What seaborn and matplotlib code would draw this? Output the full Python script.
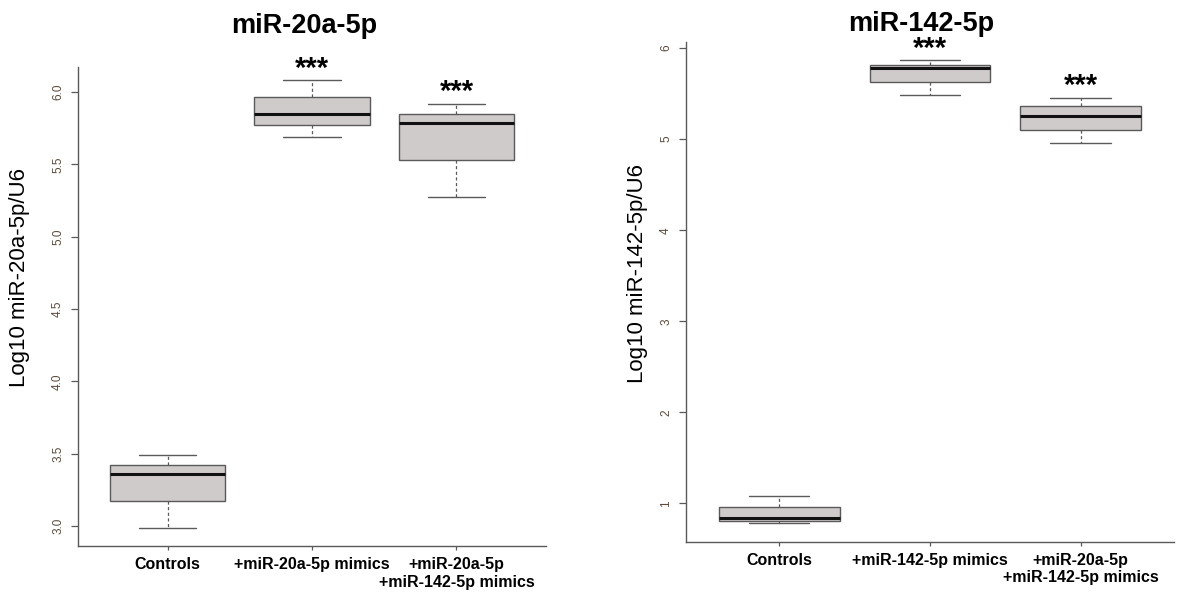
import numpy as np
import pandas as pd
import seaborn as sns
import matplotlib.pyplot as plt

# Five-number summaries: min, Q1, median, Q3, max
groups_20a = ['Controls', '+miR-20a-5p mimics', '+miR-20a-5p\n+miR-142-5p mimics']
controls_20a = [2.984, 3.173, 3.362, 3.424, 3.493]
mimics_20a = [5.689, 5.774, 5.850, 5.965, 6.080]
combo_20a = [5.271, 5.527, 5.783, 5.850, 5.919]

groups_142 = ['Controls', '+miR-142-5p mimics', '+miR-20a-5p\n+miR-142-5p mimics']
controls_142 = [0.782, 0.810, 0.836, 0.960, 1.083]
mimics_142 = [5.490, 5.626, 5.782, 5.819, 5.869]
combo_142 = [4.960, 5.105, 5.258, 5.360, 5.454]

significance = ['', '***', '***']
yticks_20a = [3.0, 3.5, 4.0, 4.5, 5.0, 5.5, 6.0]
yticks_142 = [1, 2, 3, 4, 5, 6]

BOX_FILL = '#cfcbcb'
EDGE = '#5a5a5a'
TICK_TEXT = '#5a4a3c'


def make_frame(groups, series):
    """Long-form table: one row per value, tagged by its group"""
    rows = []
    for name, vals in zip(groups, series):
        for v in vals:
            rows.append({'group': name, 'value': v})
    return pd.DataFrame(rows)


def draw_panel(ax, groups, series, title, ylabel, ylim, yticks, fmt, label_x, label_y, title_pad):
    """Draw one R-style boxplot panel"""
    df = make_frame(groups, series)
    sns.boxplot(
        data=df, x='group', y='value', order=groups, ax=ax,
        color=BOX_FILL, saturation=1, width=0.8, whis=(0, 100),
        showfliers=False, linecolor=EDGE, linewidth=1.0,
        medianprops=dict(color='#111111', linewidth=2.2),
        whiskerprops=dict(linestyle=(0, (2.5, 2)), linewidth=0.9),
        capprops=dict(linewidth=1.0),
    )

    # significance stars just above the upper whisker
    for i, (sig, vals) in enumerate(zip(significance, series)):
        if sig:
            ax.annotate(sig, xy=(i, max(vals)), xytext=(0, 2.5),
                        textcoords='offset points', ha='center',
                        va='baseline', fontsize=21, fontweight='bold',
                        color='black')

    ax.set_xlim(-0.62, 2.62)
    ax.set_ylim(*ylim)
    ax.set_yticks(yticks)
    ax.set_yticklabels([fmt.format(t) for t in yticks])
    ax.tick_params(axis='y', labelrotation=90, labelsize=8.5, labelcolor=TICK_TEXT,
                   length=5, width=0.9, color=EDGE, pad=5)
    ax.tick_params(axis='x', labelsize=11.5, labelcolor='black', length=3,
                   width=0.9, color=EDGE, pad=5)
    for lab in ax.get_yticklabels():
        lab.set_va('center')
    for lab in ax.get_xticklabels():
        lab.set_fontweight('bold')
        lab.set_multialignment('center')

    ax.set_xlabel('')
    ax.set_ylabel(ylabel, fontsize=16, color='black')
    ax.yaxis.set_label_coords(label_x, label_y)
    ax.set_title(title, fontsize=19.5, fontweight='bold', color='black',
                 x=0.483, pad=title_pad)

    sns.despine(ax=ax)
    for side in ['left', 'bottom']:
        ax.spines[side].set_color(EDGE)
        ax.spines[side].set_linewidth(1.0)


def main():
    sns.set_style('ticks')
    plt.rcParams['font.family'] = ['Liberation Sans', 'DejaVu Sans']
    plt.rcParams['text.color'] = 'black'

    fig = plt.figure(figsize=(11.79, 5.94), dpi=100)
    ax1 = fig.add_axes([0.0662, 0.0808, 0.3969, 0.8069])
    ax2 = fig.add_axes([0.5818, 0.0880, 0.4139, 0.8418])

    draw_panel(ax1, groups_20a, [controls_20a, mimics_20a, combo_20a],
               'miR-20a-5p', 'Log10 miR-20a-5p/U6', (2.862, 6.175),
               yticks_20a, '{:.1f}', -0.103, 0.56, 24)
    draw_panel(ax2, groups_142, [controls_142, mimics_142, combo_142],
               'miR-142-5p', 'Log10 miR-142-5p/U6', (0.58, 6.07),
               yticks_142, '{:d}', -0.078, 0.537, 8)

    fig.savefig('out.png', dpi=100, facecolor='white')
    plt.close(fig)


if __name__ == "__main__":
    main()
